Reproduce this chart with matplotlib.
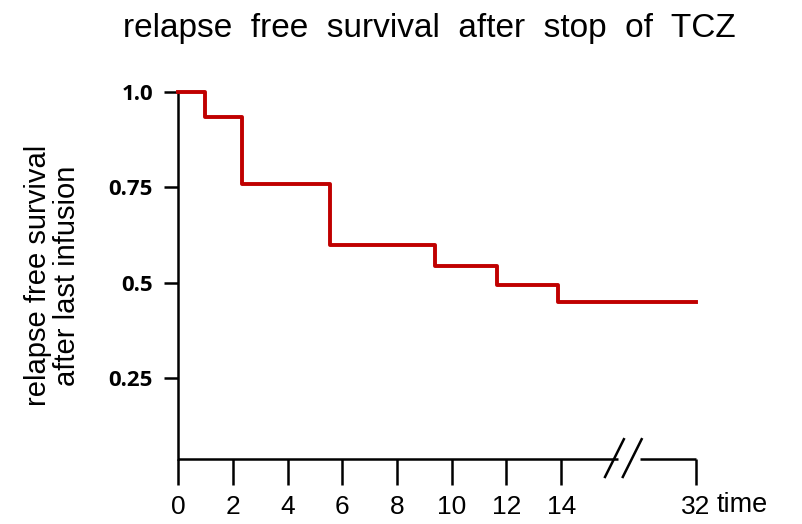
import matplotlib
matplotlib.use("Agg")
import matplotlib.pyplot as plt

# Kaplan-Meier style step data
times = [0, 1.0, 2.35, 5.55, 9.4, 11.65, 13.9, 32]
survival = [1.0, 0.935, 0.76, 0.6, 0.545, 0.495, 0.45, 0.45]
x_ticks = [0, 2, 4, 6, 8, 10, 12, 14, 32]
y_ticks = [0.25, 0.5, 0.75, 1.0]
y_tick_labels = ["0.25", "0.5", "0.75", "1.0"]

# broken x axis: linear up to 14, then 14..32 squeezed into a short span
BREAK_AT = 14
TAIL = 4.93


def xpos(t):
    if t <= BREAK_AT:
        return t
    return BREAK_AT + (t - BREAK_AT) * TAIL / (32 - BREAK_AT)


fig = plt.figure(figsize=(8.02, 5.24), dpi=100)
ax = fig.add_axes([0.222, 0.124, 0.646, 0.700])

ax.step([xpos(t) for t in times], survival, where="post",
        color="#c00000", lw=2.8, clip_on=False, zorder=3)

ymin = 0.037
ax.set_xlim(0, xpos(32))
ax.set_ylim(ymin, 1.0)

for s in ["top", "right", "bottom"]:
    ax.spines[s].set_visible(False)
ax.spines["left"].set_linewidth(1.8)

# bottom axis drawn by hand because of the break
kw = dict(color="black", lw=1.8, clip_on=False, solid_capstyle="butt")
ax.plot([0, 16.08], [ymin, ymin], **kw)
ax.plot([16.89, xpos(32)], [ymin, ymin], **kw)
ax.plot([15.58, 16.31], [ymin - 0.05, ymin + 0.055], **kw)
ax.plot([16.23, 16.96], [ymin - 0.05, ymin + 0.055], **kw)

ax.set_xticks([xpos(t) for t in x_ticks])
ax.set_xticklabels([str(t) for t in x_ticks], fontsize=19,
                   family="Liberation Sans")
ax.tick_params(axis="x", direction="out", length=19, width=1.8, pad=7,
               bottom=True)

ax.set_yticks(y_ticks)
ax.set_yticklabels(y_tick_labels, fontsize=16, fontweight="bold",
                   family="Open Sans")
ax.tick_params(axis="y", direction="out", length=10, width=1.8, pad=8)

ax.set_ylabel("relapse free survival\nafter last infusion", fontsize=21,
              family="Liberation Sans", linespacing=1.05, labelpad=20)

ax.text(1.04, -0.125, "time", transform=ax.transAxes, fontsize=19.5,
        family="Liberation Sans", ha="left", va="center")

fig.text(0.535, 0.945, "relapse  free  survival  after  stop  of  TCZ",
         fontsize=24, family="Liberation Sans", ha="center", va="center")

fig.savefig("out.png", dpi=100)
